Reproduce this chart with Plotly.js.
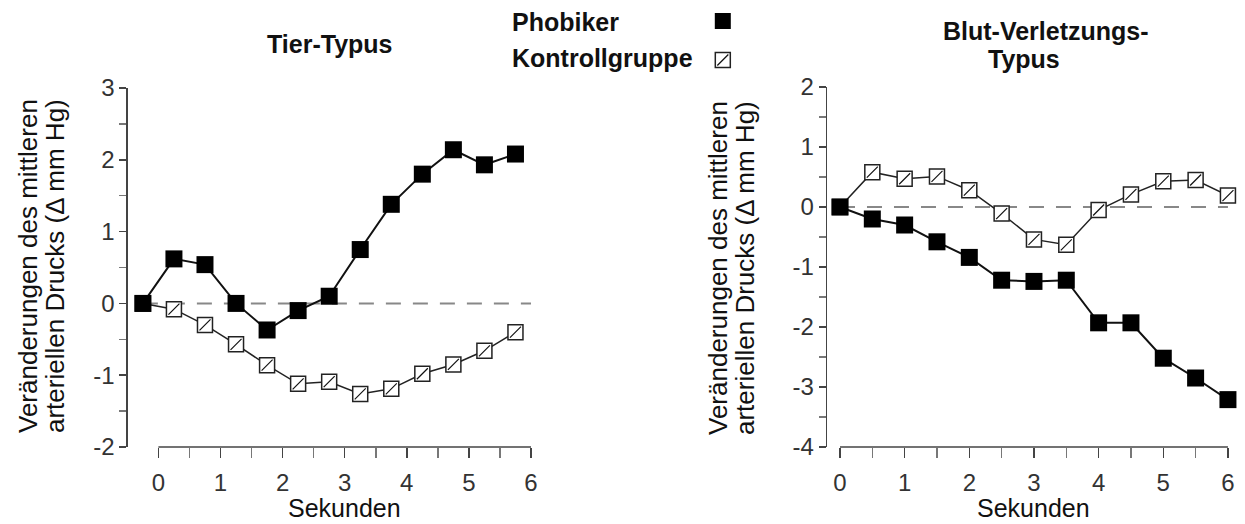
<!DOCTYPE html>
<html>
<head>
<meta charset="utf-8">
<script src="https://cdn.plot.ly/plotly-3.0.1.min.js"></script>
<style>
html,body{margin:0;padding:0;background:#fff;}
#chart{width:1245px;height:524px;}
</style>
</head>
<body>
<div id="chart"></div>
<script>
// ---- data ----
const secondsTier = [-0.25, 0.25, 0.75, 1.25, 1.75, 2.25, 2.75, 3.25, 3.75, 4.25, 4.75, 5.25, 5.75];
const phobikerTier = [0, 0.62, 0.54, 0.0, -0.37, -0.1, 0.1, 0.75, 1.38, 1.8, 2.14, 1.93, 2.08];
const kontrolleTier = [0, -0.08, -0.3, -0.57, -0.86, -1.12, -1.09, -1.26, -1.19, -0.98, -0.85, -0.66, -0.4];

const secondsBlut = [0, 0.5, 1, 1.5, 2, 2.5, 3, 3.5, 4, 4.5, 5, 5.5, 6];
const phobikerBlut = [0, -0.2, -0.3, -0.58, -0.84, -1.22, -1.24, -1.22, -1.93, -1.93, -2.52, -2.85, -3.21];
const kontrolleBlut = [0, 0.58, 0.47, 0.51, 0.28, -0.11, -0.54, -0.63, -0.05, 0.21, 0.43, 0.45, 0.19];

const xTickVals = [0, 1, 2, 3, 4, 5, 6];
const xTickText = ['0', '1', '2', '3', '4', '5', '6'];
const yTickValsTier = [-2, -1, 0, 1, 2, 3];
const yTickTextTier = ['-2', '-1', '0', '1', '2', '3'];
const yTickValsBlut = [-4, -3, -2, -1, 0, 1, 2];
const yTickTextBlut = ['-4', '-3', '-2', '-1', '0', '1', '2'];

const seriesNames = ['Phobiker', 'Kontrollgruppe'];
const panelTitles = ['Tier-Typus', 'Blut-Verletzungs-', 'Typus'];
const yTitleLines = ['Veränderungen des mittleren', 'arteriellen Drucks (Δ mm Hg)'];
const xTitle = 'Sekunden';

// ---- styling ----
const FONT = 'Liberation Sans, Arial, Helvetica, sans-serif';
const AXC = '#444';

function panelTraces(xs, phob, ctrl, xa, ya, withLegend) {
  return [
    {x: xs, y: ctrl, xaxis: xa, yaxis: ya, mode: 'lines', line: {color: '#222', width: 1.5},
     showlegend: false, hoverinfo: 'skip'},
    {x: xs, y: ctrl, xaxis: xa, yaxis: ya, mode: 'markers', name: '', legend: 'legend2',
     showlegend: withLegend, cliponaxis: false,
     marker: {symbol: 'square', size: 15, color: '#fff', line: {color: '#222', width: 1.5}}},
    {x: xs, y: ctrl, xaxis: xa, yaxis: ya, mode: 'markers', name: '', legend: 'legend3',
     showlegend: withLegend, cliponaxis: false,
     marker: {symbol: 'line-ne-open', size: 11, color: '#111', line: {color: '#111', width: 1.2}}},
    {x: xs, y: phob, xaxis: xa, yaxis: ya, mode: 'lines', line: {color: '#111', width: 2},
     showlegend: false, hoverinfo: 'skip'},
    {x: xs, y: phob, xaxis: xa, yaxis: ya, mode: 'markers', name: '', legend: 'legend',
     showlegend: withLegend, cliponaxis: false,
     marker: {symbol: 'square', size: 17, color: '#000', line: {color: '#000', width: 0}}}
  ];
}

const data = [].concat(
  panelTraces(secondsTier, phobikerTier, kontrolleTier, 'x', 'y', true),
  panelTraces(secondsBlut, phobikerBlut, kontrolleBlut, 'x2', 'y2', false)
);

function xAxis(domain, range, anchor) {
  return {
    domain: domain, range: range, anchor: anchor,
    showline: false, showgrid: false, zeroline: false,
    tickmode: 'array', tickvals: xTickVals, ticktext: xTickText,
    ticks: 'outside', ticklen: 10, tickwidth: 1.5, tickcolor: AXC,
    minor: {dtick: 0.5, tick0: 0, ticks: 'outside', ticklen: 10, tickwidth: 1.5, tickcolor: '#777', showgrid: false},
    ticklabelstandoff: 4,
    tickfont: {family: FONT, size: 24, color: '#333'},
    fixedrange: true
  };
}
function yAxis(domain, range, anchor, vals, text) {
  return {
    domain: domain, range: range, anchor: anchor,
    showline: true, linecolor: AXC, linewidth: 1.5, showgrid: false, zeroline: false,
    tickmode: 'array', tickvals: vals, ticktext: text,
    ticks: 'outside', ticklen: 7, tickwidth: 1.5, tickcolor: AXC,
    minor: {dtick: 0.5, tick0: 0, ticks: 'outside', ticklen: 7, tickwidth: 1.5, tickcolor: '#777', showgrid: false},
    tickfont: {family: FONT, size: 24, color: '#333'},
    fixedrange: true
  };
}

const legendBase = {
  xanchor: 'left', yanchor: 'middle', bgcolor: 'rgba(0,0,0,0)', borderwidth: 0,
  font: {family: FONT, size: 10}, itemsizing: 'trace', itemwidth: 30
};

const annoFont = {family: FONT, size: 26, color: '#111'};
const xTitleFont = {family: FONT, size: 25, color: '#111'};
const boldFont = {family: FONT, size: 25, color: '#111', weight: 'bold'};

const layout = {
  width: 1245, height: 524,
  margin: {l: 0, r: 0, t: 0, b: 0},
  paper_bgcolor: '#fff', plot_bgcolor: 'rgba(0,0,0,0)',
  showlegend: true,
  xaxis: xAxis([0.1028, 0.4265], [-0.49, 6], 'y'),
  yaxis: yAxis([0.1469, 0.8321], [-2, 3], 'x', yTickValsTier, yTickTextTier),
  xaxis2: xAxis([0.6643, 0.9863], [-0.2, 6], 'y2'),
  yaxis2: yAxis([0.1469, 0.8340], [-4, 2], 'x2', yTickValsBlut, yTickTextBlut),
  legend: Object.assign({}, legendBase, {x: 0.5645, y: 1 - 21 / 524}),
  legend2: Object.assign({}, legendBase, {x: 0.5645, y: 1 - 60 / 524}),
  legend3: Object.assign({}, legendBase, {x: 0.5645, y: 1 - 60 / 524}),
  shapes: [
    // x axis lines spanning 0..6
    {type: 'line', xref: 'x', yref: 'y domain', x0: xTickVals[0], x1: xTickVals[xTickVals.length - 1], y0: 0, y1: 0,
     line: {color: AXC, width: 1.5}},
    {type: 'line', xref: 'x2', yref: 'y2 domain', x0: xTickVals[0], x1: xTickVals[xTickVals.length - 1], y0: 0, y1: 0,
     line: {color: AXC, width: 1.5}},
    // dashed zero reference lines
    {type: 'line', xref: 'x', yref: 'y', x0: secondsTier[0], x1: 6, y0: 0, y1: 0, layer: 'below',
     line: {color: '#888', width: 2, dash: '15px,12px'}},
    {type: 'line', xref: 'x2', yref: 'y2', x0: secondsBlut[0], x1: 6, y0: 0, y1: 0, layer: 'below',
     line: {color: '#888', width: 2, dash: '15px,12px'}}
  ],
  annotations: [
    {text: panelTitles[0], xref: 'paper', yref: 'paper', x: 330 / 1245, y: 1 - 44 / 524,
     xanchor: 'center', yanchor: 'middle', showarrow: false, font: boldFont},
    {text: panelTitles[1], xref: 'paper', yref: 'paper', x: 1046 / 1245, y: 1 - 31 / 524,
     xanchor: 'center', yanchor: 'middle', showarrow: false, font: boldFont},
    {text: panelTitles[2], xref: 'paper', yref: 'paper', x: 1024 / 1245, y: 1 - 59 / 524,
     xanchor: 'center', yanchor: 'middle', showarrow: false, font: boldFont},
    {text: seriesNames[0], xref: 'paper', yref: 'paper', x: 510 / 1245, y: 1 - 22 / 524,
     xanchor: 'left', yanchor: 'middle', showarrow: false, font: boldFont},
    {text: seriesNames[1], xref: 'paper', yref: 'paper', x: 510 / 1245, y: 1 - 58 / 524,
     xanchor: 'left', yanchor: 'middle', showarrow: false, font: boldFont},
    // y titles (two lines each)
    {text: yTitleLines[0], xref: 'paper', yref: 'paper', x: 28 / 1245, y: 1 - 266 / 524, textangle: -90,
     xanchor: 'center', yanchor: 'middle', showarrow: false, font: annoFont},
    {text: yTitleLines[1], xref: 'paper', yref: 'paper', x: 55 / 1245, y: 1 - 266 / 524, textangle: -90,
     xanchor: 'center', yanchor: 'middle', showarrow: false, font: annoFont},
    {text: yTitleLines[0], xref: 'paper', yref: 'paper', x: 718 / 1245, y: 1 - 268 / 524, textangle: -90,
     xanchor: 'center', yanchor: 'middle', showarrow: false, font: annoFont},
    {text: yTitleLines[1], xref: 'paper', yref: 'paper', x: 745 / 1245, y: 1 - 268 / 524, textangle: -90,
     xanchor: 'center', yanchor: 'middle', showarrow: false, font: annoFont},
    // x titles
    {text: xTitle, xref: 'x', yref: 'paper', x: 3, y: 1 - 508 / 524,
     xanchor: 'center', yanchor: 'middle', showarrow: false, font: xTitleFont},
    {text: xTitle, xref: 'x2', yref: 'paper', x: 3, y: 1 - 508 / 524,
     xanchor: 'center', yanchor: 'middle', showarrow: false, font: xTitleFont}
  ]
};

Plotly.newPlot('chart', data, layout, {staticPlot: true, displayModeBar: false});
</script>
</body>
</html>
